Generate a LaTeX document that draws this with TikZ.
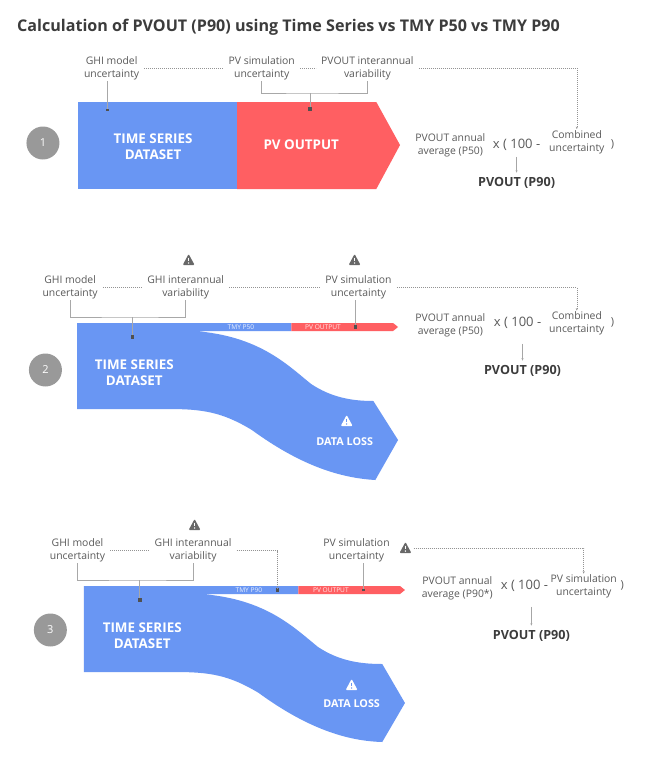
\documentclass[tikz,border=0pt]{standalone}
\usepackage{fontspec}
\setmainfont{Open Sans}
\usetikzlibrary{arrows.meta}
\definecolor{flowblue}{HTML}{6996F3}
\definecolor{flowred}{HTML}{FF5F62}
\definecolor{txt}{HTML}{5A5A5A}
\definecolor{dark}{HTML}{3C3C3C}
\definecolor{linegrey}{HTML}{A8A8A8}
\definecolor{badge}{HTML}{999999}
\definecolor{iconc}{HTML}{686868}
\tikzset{
  lab/.style={font=\fontsize{10.4}{13}\selectfont,text=txt,align=center,inner xsep=5pt,inner ysep=1pt,yshift=-1.5pt},
  lab2/.style={font=\fontsize{10.4}{13}\selectfont,text=txt,align=center,inner xsep=2pt,inner ysep=1pt,yshift=-1pt},
  calc/.style={font=\fontsize{13}{14}\selectfont,text=txt,inner sep=0pt},
  closep/.style={font=\fontsize{11}{12}\selectfont,text=txt,inner sep=0pt},
  res/.style={font=\bfseries\fontsize{12.6}{14}\selectfont,text=dark,inner sep=1pt,yshift=-1.5pt},
  inbox/.style={font=\bfseries\fontsize{13.4}{16}\selectfont,text=white,align=center,inner sep=0pt,yshift=-1pt},
  loss/.style={font=\bfseries\fontsize{10.8}{12}\selectfont,text=white,inner sep=0pt,yshift=-1pt},
  tiny/.style={font=\fontsize{6.6}{7}\selectfont,text=white,opacity=.85,inner sep=0pt},
  badgec/.style={circle,fill=badge,minimum size=33pt,inner sep=0pt,text=white,font=\fontsize{11}{13}\selectfont},
  bracket/.style={draw=linegrey,line width=.8pt},
  dotted link/.style={draw=gray!85,line width=.5pt,dash pattern=on 1pt off 1pt},
  dotted arrow/.style={dotted link,-{Stealth[length=2.5pt,width=2pt]}},
  thin arrow/.style={draw=gray!70,line width=.5pt,shorten >=3pt,-{Stealth[length=2.5pt,width=2pt]}},
  sq/.style={rectangle,fill=dark!90,minimum size=3.5pt,inner sep=0pt},
  warnicon/.pic={
    \fill[iconc,rounded corners=1pt] (-6,5) -- (0,-6) -- (6,5) -- cycle;
    \draw[white,line width=1.3pt] (0,-2.5) -- (0,1);
    \fill[white] (0,3) circle (.8);
  },
  warnwhite/.pic={
    \fill[white,rounded corners=1pt] (-6,5) -- (0,-6) -- (6,5) -- cycle;
    \draw[flowblue,line width=1.3pt] (0,-2.5) -- (0,1);
    \fill[flowblue] (0,3) circle (.8);
  },
}
\begin{document}
\begin{tikzpicture}[x=0.9877pt,y=-1pt]
\useasboundingbox (0,0) rectangle (654.04,768);
\fill[white] (0,0) rectangle (654.04,768);
\node[anchor=west,inner sep=0pt,text=dark,font=\bfseries\fontsize{16.1}{20}\selectfont] (title) at (17.2,27) {Calculation of PVOUT (P90) using Time Series vs TMY P50 vs TMY P90};

% ---------- panel 1
\fill[flowblue] (79,102) rectangle (240,189);
\fill[flowred] (240,102) -- (381,102) -- (405,145) -- (381,189) -- (240,189) -- cycle;
\node[inbox] (ts1) at (155,146) {TIME SERIES\\DATASET};
\node[inbox] (pv1) at (305,144) {PV OUTPUT};
\node[badgec] (n1) at (43.5,143) {1};
\node[lab] (ghi1) at (113,67) {GHI model\\uncertainty};
\node[lab] (sim1) at (265,67) {PV simulation\\uncertainty};
\node[lab] (var1) at (372,67) {PVOUT interannual\\variability};
\node[sq,minimum size=2.5pt] (dg1) at (109,110) {};
\node[sq] (dp1) at (314,109) {};
\coordinate (b1) at (314,93);
\draw[bracket] (dg1 |- ghi1.south) -- (dg1);
\draw[bracket] (sim1.south) |- (b1) -| (var1.south);
\draw[bracket] (b1) -- (dp1);
\node[lab2] (avg1) at (456,144) {PVOUT annual\\average (P50)};
\node[calc] (x1) at (523,145) {x ( 100 -};
\node[lab2] (com1) at (584,141) {Combined\\uncertainty};
\node[closep] (cl1) at (620,144) {)};
\node[res] (r1) at (523,181) {PVOUT (P90)};
\draw[thin arrow] (x1.south -| r1) ++(0,6) -- (r1.north);
\draw[dotted link] (ghi1) -- (sim1);
\draw[dotted link] (sim1) -- (var1);
\draw[dotted arrow] (var1.east) -| (com1.north);

% ---------- panel 2
\path[fill=flowblue] (78,323) -- (295,323) -- (295,331) -- (197,331)
  .. controls (262,336) and (290,364) .. (315,384)
  .. controls (335,397) and (355,401) .. (378,401)
  -- (403,440) -- (380,480)
  .. controls (345,478) and (305,466) .. (255,430)
  .. controls (225,412) and (205,409) .. (170,409)
  -- (78,409) -- cycle;
\fill[flowred] (295,323) -- (398,323) -- (403,327) -- (398,331) -- (295,331) -- cycle;
\node[tiny] (t2) at (244,327.5) {TMY P50};
\node[tiny] (o2) at (327,327.5) {PV OUTPUT};
\node[inbox] (ts2) at (136,372) {TIME SERIES\\DATASET};
\node[badgec] (n2) at (46,370) {2};
\pic at (351,421) {warnwhite};
\node[loss] (dl2) at (349,441) {DATA LOSS};
\pic at (191,260) {warnicon};
\pic at (359,260) {warnicon};
\node[lab] (ghi2) at (71,286) {GHI model\\uncertainty};
\node[lab] (var2) at (188,286) {GHI interannual\\variability};
\node[lab] (sim2) at (363,286) {PV simulation\\uncertainty};
\node[sq] (dg2) at (134,337) {};
\node[sq] (dp2) at (360,327) {};
\coordinate (b2) at (134,317);
\draw[bracket] (ghi2.south) |- (b2) -| (var2.south);
\draw[bracket] (b2) -- (dg2);
\draw[bracket] (dp2 |- sim2.south) -- (dp2);
\node[lab2] (avg2) at (456,324.5) {PVOUT annual\\average (P50)};
\node[calc] (x2) at (524,323) {x ( 100 -};
\node[lab2] (com2) at (584,322.5) {Combined\\uncertainty};
\node[closep] (cl2) at (620,322) {)};
\node[res] (r2) at (529,369) {PVOUT (P90)};
\draw[thin arrow] (x2.south -| r2) ++(0,15) -- (r2.north);
\draw[dotted link] (ghi2) -- (var2);
\draw[dotted link] (var2) -- (sim2);
\draw[dotted arrow] (sim2.east) -| (com2.north);

% ---------- panel 3
\path[fill=flowblue] (85,586) -- (302,586) -- (302,594) -- (204,594)
  .. controls (269,599) and (297,627) .. (322,647)
  .. controls (342,660) and (362,664) .. (387,664)
  -- (410,703) -- (387,742)
  .. controls (352,741) and (312,729) .. (262,693)
  .. controls (232,675) and (212,672) .. (177,672)
  -- (85,672) -- cycle;
\fill[flowred] (302,586) -- (405,586) -- (410,590) -- (405,594) -- (302,594) -- cycle;
\node[tiny] (t3) at (252,590.5) {TMY P90};
\node[tiny] (o3) at (335,590.5) {PV OUTPUT};
\node[inbox] (ts3) at (144,635) {TIME SERIES\\DATASET};
\node[badgec] (n3) at (51,630) {3};
\pic at (356,685) {warnwhite};
\node[loss] (dl3) at (356,703) {DATA LOSS};
\pic at (197,525) {warnicon};
\node[lab] (ghi3) at (78.5,549) {GHI model\\uncertainty};
\node[lab] (var3) at (195.5,549) {GHI interannual\\variability};
\node[lab] (sim3) at (361,549) {PV simulation\\uncertainty};
\node[inner sep=0pt,minimum width=12pt,minimum height=12pt] (w3) at (410.5,548) {};
\pic at (410.5,548) {warnicon};
\node[sq] (dg3) at (141.5,600) {};
\node[sq] (dt3) at (281,590) {};
\node[sq,minimum size=2.5pt] (dp3) at (368,590) {};
\coordinate (b3) at (141.5,580);
\draw[bracket] (ghi3.south) |- (b3) -| (var3.south);
\draw[bracket] (b3) -- (dg3);
\draw[bracket] (dp3 |- sim3.south) -- (dp3);
\node[lab2] (avg3) at (463,587.5) {PVOUT annual\\average (P90*)};
\node[calc] (x3) at (531,586) {x ( 100 -};
\node[lab2] (com3) at (591,585.5) {PV simulation\\uncertainty};
\node[closep] (cl3) at (630,585) {)};
\node[res] (r3) at (538,634) {PVOUT (P90)};
\draw[thin arrow] (x3.south -| r3) ++(0,15) -- (r3.north);
\draw[dotted link] (ghi3) -- (var3);
\draw[dotted link] (var3.east) -| (dt3.north);
\draw[dotted arrow] (w3.east) ++(2,0) -| (com3.north);
\end{tikzpicture}
\end{document}
